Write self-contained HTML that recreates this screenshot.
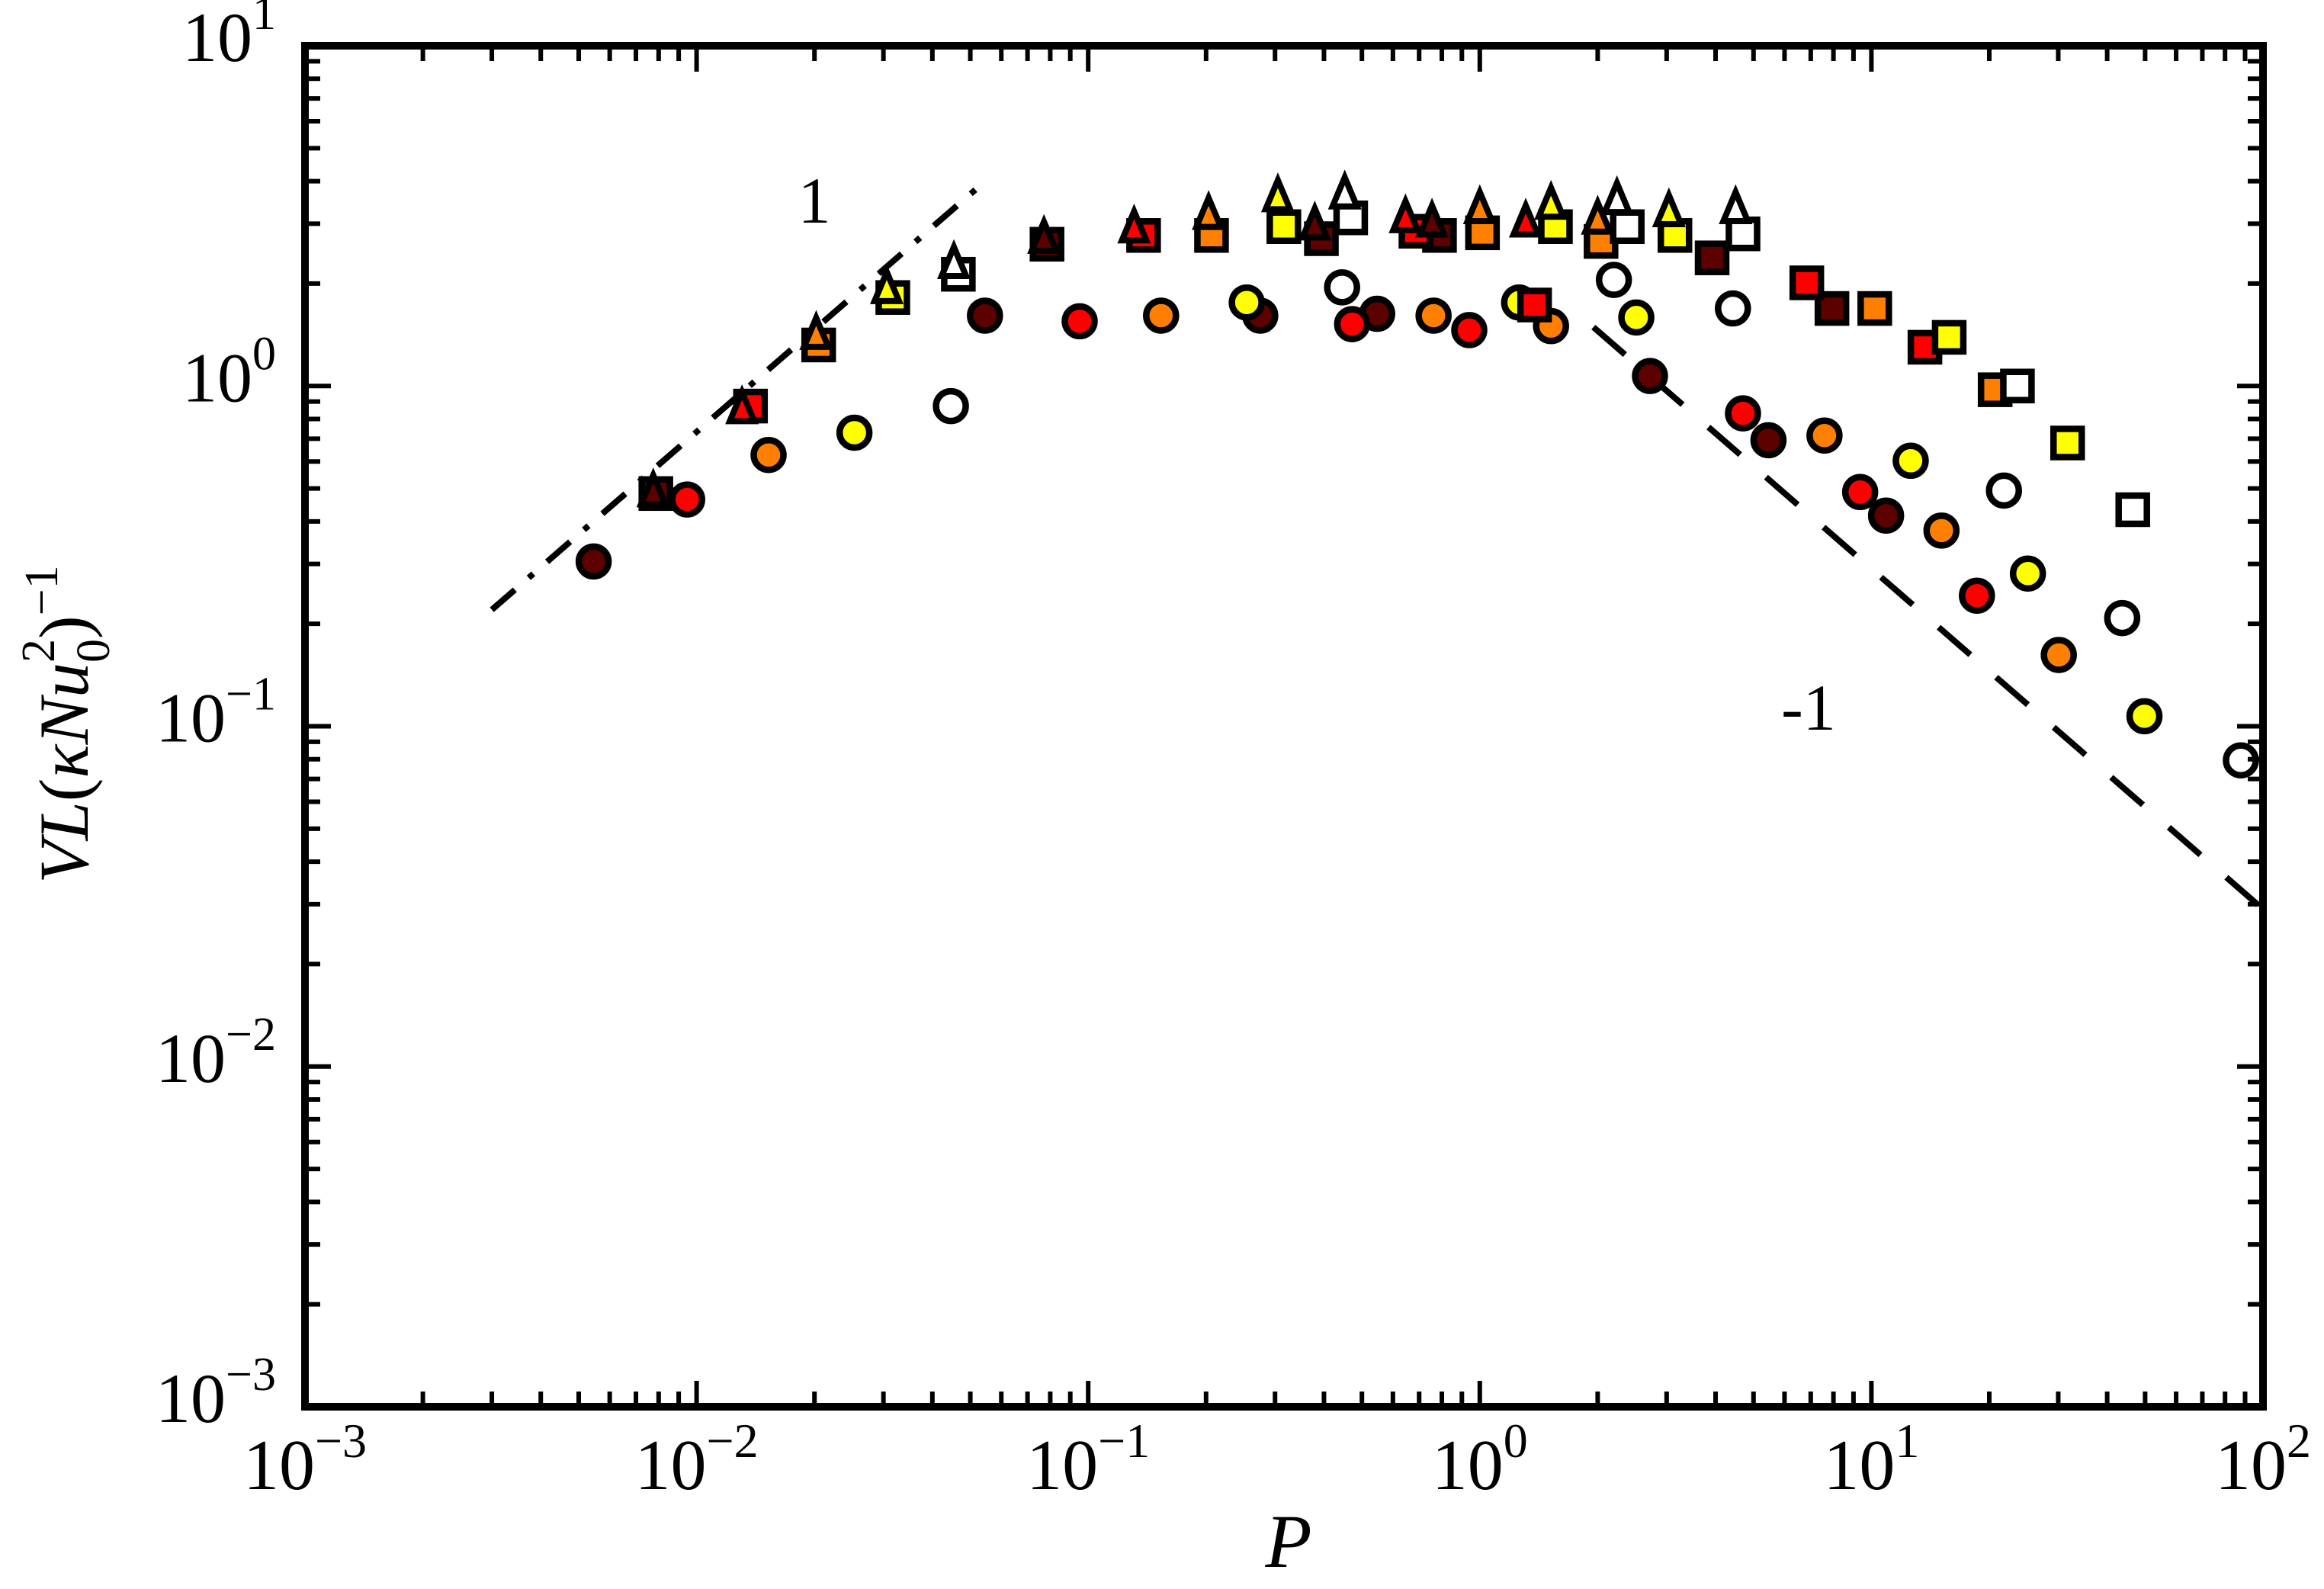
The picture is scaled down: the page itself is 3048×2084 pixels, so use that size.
<!DOCTYPE html>
<html><head><meta charset="utf-8"><style>
html,body{margin:0;padding:0;background:#fff;}
svg{display:block;}
text{font-family:"Liberation Serif","DejaVu Serif",serif;fill:#000;}
</style></head><body>
<svg id="chart" width="3048" height="2084" viewBox="0 0 3048 2084" xmlns="http://www.w3.org/2000/svg">
<g id="lines"></g>
<g id="marks"></g>
<g id="axes"></g>
<text x="1068" y="292" font-size="86" text-anchor="middle">1</text>
<text x="2372" y="957" font-size="86" text-anchor="middle">-1</text>
<text x="1690" y="2055" font-size="100" font-style="italic" text-anchor="middle">P</text>
<text transform="translate(115,950) rotate(-90)" font-size="92" text-anchor="middle"><tspan font-style="italic">VL</tspan>(<tspan font-style="italic">κNu</tspan><tspan font-size="62" dy="28">0</tspan><tspan font-size="62" dx="-31" dy="-72">2</tspan><tspan dy="44">)</tspan><tspan font-size="62" dy="-40">−1</tspan></text>
</svg>
<script>
const circDarkP=[0.00546,0.0545,0.275,0.547,2.72,5.46,10.9];
const circDarkV=[0.305,1.61,1.61,1.63,1.07,0.693,0.416];
const circRedP=[0.00946,0.0951,0.472,0.940,4.70,9.36,18.6];
const circRedV=[0.464,1.55,1.52,1.46,0.831,0.488,0.242];
const circOrangeP=[0.01527,0.1535,0.762,1.52,7.59,15.1,30.1];
const circOrangeV=[0.627,1.61,1.61,1.50,0.715,0.376,0.162];
const circYellowP=[0.0253,0.254,1.26,2.51,12.6,25.1,49.8];
const circYellowV=[0.729,1.76,1.76,1.59,0.603,0.281,0.107];
const circWhiteP=[0.0446,0.445,2.20,4.43,21.8,43.7,87.8];
const circWhiteV=[0.873,1.95,2.05,1.69,0.493,0.208,0.0794];

const sqDarkP=[0.00787,0.0785,0.394,0.789,3.92,7.93];
const sqDarkV=[0.483,2.61,2.71,2.77,2.38,1.69];
const sqRedP=[0.01373,0.1385,0.687,1.38,6.84,13.7];
const sqRedV=[0.873,2.77,2.85,1.73,2.01,1.30];
const sqOrangeP=[0.0205,0.2065,1.016,2.04,10.2,20.7];
const sqOrangeV=[1.32,2.77,2.82,2.66,1.69,0.975];
const sqYellowP=[0.0317,0.316,1.56,3.15,15.8,31.7];
const sqYellowV=[1.82,2.94,2.94,2.77,1.39,0.680];
const sqWhiteP=[0.0466,0.468,2.38,4.70,23.6,46.5];
const sqWhiteV=[2.13,3.12,2.94,2.80,1.00,0.433];

const triDarkP=[0.00775,0.0771,0.379,0.755];
const triDarkV=[0.493,2.74,3.00,3.06];
const triRedP=[0.01306,0.131,0.646,1.31];
const triRedV=[0.865,2.94,3.15,3.06];
const triOrangeP=[0.0202,0.203,1.00,2.00];
const triOrangeV=[1.43,3.22,3.35,3.12];
const triYellowP=[0.0306,0.305,1.52,3.04];
const triYellowV=[1.95,3.63,3.45,3.28];
const triWhiteP=[0.0454,0.452,2.24,4.50];
const triWhiteV=[2.31,3.70,3.56,3.35];

const slopeOneP=[0.003,0.055];
const slopeOneV=[0.22,4.03];
const slopeMinusP=[1.95,100];
const slopeMinusV=[1.49,0.029];

const xTickExp=[-3,-2,-1,0,1,2];
const yTickExp=[-3,-2,-1,0,1];

const NS='http://www.w3.org/2000/svg';
const L=400,R=2968,T=60,B=1845;
const xMin=-3,xMax=2,yMin=-3,yMax=1;
function X(p){return L+(Math.log10(p)-xMin)/(xMax-xMin)*(R-L);}
function Y(v){return B-(Math.log10(v)-yMin)/(yMax-yMin)*(B-T);}
function mk(tag,attrs,parent){const e=document.createElementNS(NS,tag);for(const k in attrs)e.setAttribute(k,attrs[k]);parent.appendChild(e);return e;}

const lines=document.getElementById('lines');
let l1=mk('line',{x1:X(slopeOneP[0]),y1:Y(slopeOneV[0]),x2:X(slopeOneP[1]),y2:Y(slopeOneV[1]),stroke:'#000','stroke-width':8,'stroke-dasharray':'40 24 8 24'},lines);


let l2=mk('line',{x1:X(slopeMinusP[0]),y1:Y(slopeMinusV[0]),x2:X(slopeMinusP[1]),y2:Y(slopeMinusV[1]),stroke:'#000','stroke-width':8,'stroke-dasharray':'55 45'},lines);



const marks=document.getElementById('marks');
const cols={dark:'#5c0000',red:'#ff0000',orange:'#ff8000',yellow:'#ffff00',white:'#ffffff'};
const circSets=[['dark',circDarkP,circDarkV],['red',circRedP,circRedV],['orange',circOrangeP,circOrangeV],['yellow',circYellowP,circYellowV],['white',circWhiteP,circWhiteV]];
const sqSets=[['dark',sqDarkP,sqDarkV],['red',sqRedP,sqRedV],['orange',sqOrangeP,sqOrangeV],['yellow',sqYellowP,sqYellowV],['white',sqWhiteP,sqWhiteV]];
const triSets=[['dark',triDarkP,triDarkV],['red',triRedP,triRedV],['orange',triOrangeP,triOrangeV],['yellow',triYellowP,triYellowV],['white',triWhiteP,triWhiteV]];
circSets.forEach(s=>{s[1].forEach((p,i)=>{const x=X(p),y=Y(s[2][i]);
  const c=mk('circle',{cx:x,cy:y,r:19.5,fill:cols[s[0]],stroke:'#000','stroke-width':8.5},marks);
  
  });});
sqSets.forEach(s=>{s[1].forEach((p,i)=>{const x=X(p),y=Y(s[2][i]);
  const c=mk('rect',{x:x-18.5,y:y-18.5,width:37,height:37,fill:cols[s[0]],stroke:'#000','stroke-width':8.5},marks);
  
  });});
triSets.forEach(s=>{s[1].forEach((p,i)=>{const x=X(p),y=Y(s[2][i]);
  const c=mk('polygon',{points:(x)+','+(y-20)+' '+(x-16)+','+(y+18)+' '+(x+16)+','+(y+18),fill:cols[s[0]],stroke:'#000','stroke-width':8,'stroke-linejoin':'miter'},marks);
  
  });});

const axes=document.getElementById('axes');
const fr=mk('rect',{x:L,y:T,width:R-L,height:B-T,fill:'none',stroke:'#000','stroke-width':10},axes);


function tickX(px,len){mk('line',{x1:px,y1:B,x2:px,y2:B-len,stroke:'#000','stroke-width':6},axes);mk('line',{x1:px,y1:T,x2:px,y2:T+len,stroke:'#000','stroke-width':6},axes);}
function tickY(py,len){mk('line',{x1:L,y1:py,x2:L+len,y2:py,stroke:'#000','stroke-width':6},axes);mk('line',{x1:R,y1:py,x2:R-len,y2:py,stroke:'#000','stroke-width':6},axes);}
xTickExp.forEach((e,i)=>{const px=X(Math.pow(10,e));tickX(px,34);
  if(i<xTickExp.length-1)for(let m=2;m<10;m++)tickX(X(m*Math.pow(10,e)),20);
  const t=mk('text',{x:px,y:1953,'font-size':94,'text-anchor':'middle'},axes);
  
  
  t.innerHTML='10<tspan font-size="64" dy="-42">'+(e<0?'−'+(-e):e)+'</tspan>';});
yTickExp.forEach((e,i)=>{const py=Y(Math.pow(10,e));tickY(py,34);
  if(i<yTickExp.length-1)for(let m=2;m<10;m++)tickY(Y(m*Math.pow(10,e)),20);
  const t=mk('text',{x:362,y:py+20,'font-size':92,'text-anchor':'end'},axes);
  
  
  t.innerHTML='10<tspan font-size="62" dy="-42">'+(e<0?'−'+(-e):e)+'</tspan>';});
</script>
</body></html>
